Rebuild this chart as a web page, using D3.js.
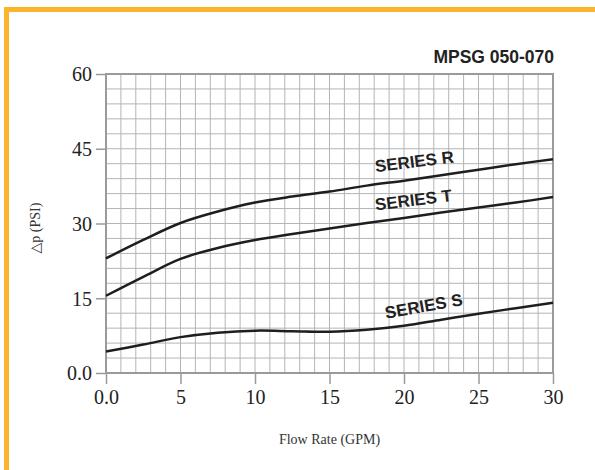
<!DOCTYPE html>
<html>
<head>
<meta charset="utf-8">
<script src="https://cdn.jsdelivr.net/npm/d3@7.9.0/dist/d3.min.js"></script>
<style>
  body { margin: 0; background: #fff; }
  svg { display: block; }
</style>
</head>
<body>
<svg id="chart" width="595" height="470"></svg>
<script>
// data
const flow = [0, 2.5, 5, 7.5, 10, 12.5, 15, 17.5, 20, 22.5, 25, 27.5, 30]
const seriesR = [23.0, 26.7, 30.1, 32.4, 34.2, 35.4, 36.4, 37.6, 38.6, 39.7, 40.8, 41.9, 42.9]
const seriesT = [15.5, 19.3, 22.9, 25.1, 26.7, 27.9, 29.0, 30.1, 31.1, 32.2, 33.2, 34.2, 35.3]
const seriesS = [4.3, 5.7, 7.2, 8.1, 8.5, 8.4, 8.3, 8.7, 9.5, 10.7, 11.9, 13.0, 14.1]
const xTicks = [0, 5, 10, 15, 20, 25, 30]
const yTicks = [0, 15, 30, 45, 60]

const svg = d3.select('#chart')

// orange frame on top and left
svg.append('rect').attr('x', 4).attr('y', 7).attr('width', 591).attr('height', 5).attr('fill', '#fbb52b')
svg.append('rect').attr('x', 4).attr('y', 7).attr('width', 5).attr('height', 463).attr('fill', '#fbb52b')

const x = d3.scaleLinear().domain([0, 30]).range([106, 553])
const y = d3.scaleLinear().domain([0, 60]).range([373, 74])

// grid: 1 GPM by 3 PSI
const grid = svg.append('g')
grid.selectAll('line.v').data(d3.range(0, 31, 1)).join('line')
    .attr('x1', d => x(d)).attr('x2', d => x(d))
    .attr('y1', y(0)).attr('y2', y(60))
    .attr('stroke', '#b4b4b4').attr('stroke-width', 1)
grid.selectAll('line.h').data(d3.range(0, 61, 3)).join('line')
    .attr('y1', d => y(d)).attr('y2', d => y(d))
    .attr('x1', x(0)).attr('x2', x(30))
    .attr('stroke', '#b4b4b4').attr('stroke-width', 1)

svg.append('rect')
    .attr('x', x(0)).attr('y', y(60))
    .attr('width', x(30) - x(0)).attr('height', y(0) - y(60))
    .attr('fill', 'none').attr('stroke', '#9a9a9a').attr('stroke-width', 2)

// axes
const xAxis = svg.append('g').attr('transform', `translate(0,${y(0)})`)
    .call(d3.axisBottom(x).tickValues(xTicks).tickSize(11).tickPadding(6)
        .tickFormat(d => d === 0 ? '0.0' : d))
const yAxis = svg.append('g').attr('transform', `translate(${x(0)},0)`)
    .call(d3.axisLeft(y).tickValues(yTicks).tickSize(10).tickPadding(4)
        .tickFormat(d => d === 0 ? '0.0' : d))
;[xAxis, yAxis].forEach(a => {
    a.select('.domain').remove()
    a.selectAll('line').attr('stroke', '#9a9a9a').attr('stroke-width', 1.5)
    a.selectAll('text').attr('font-family', 'Liberation Serif, Times New Roman, serif')
        .attr('font-size', 20).attr('fill', '#222')
})
yAxis.selectAll('text').attr('dy', '0.34em')

// curves
const line = d3.line().x((d, i) => x(flow[i])).y(d => y(d)).curve(d3.curveCatmullRom.alpha(0.5))
const curves = [seriesR, seriesT, seriesS]
svg.selectAll('path.curve').data(curves).join('path')
    .attr('class', 'curve')
    .attr('d', line)
    .attr('fill', 'none').attr('stroke', '#1e1e1e').attr('stroke-width', 2.5)

// series labels
const labels = [
    { text: 'SERIES R', gpm: 18.1, psi: 40.3, angle: -7 },
    { text: 'SERIES T', gpm: 18.1, psi: 32.6, angle: -7 },
    { text: 'SERIES S', gpm: 18.8, psi: 10.9, angle: -10 }
]
svg.selectAll('text.series').data(labels).join('text')
    .attr('class', 'series')
    .attr('transform', d => `translate(${x(d.gpm)},${y(d.psi)}) rotate(${d.angle})`)
    .attr('font-family', 'Liberation Sans, Arial, sans-serif')
    .attr('font-weight', 'bold').attr('font-size', 17).attr('fill', '#222')
    .text(d => d.text)

// title
svg.append('text')
    .attr('x', 554).attr('y', 63).attr('text-anchor', 'end')
    .attr('font-family', 'Liberation Sans, Arial, sans-serif')
    .attr('font-weight', 'bold').attr('font-size', 17.5).attr('fill', '#222')
    .text('MPSG 050-070')

// axis titles
svg.append('text')
    .attr('transform', 'translate(40,228) rotate(-90)')
    .attr('text-anchor', 'middle')
    .attr('font-family', 'Liberation Serif, DejaVu Serif, serif')
    .attr('font-size', 14).attr('fill', '#333')
    .text('△p (PSI)')
svg.append('text')
    .attr('x', (x(0) + x(30)) / 2).attr('y', 444).attr('text-anchor', 'middle')
    .attr('font-family', 'Liberation Serif, Times New Roman, serif')
    .attr('font-size', 14).attr('fill', '#333')
    .text('Flow Rate (GPM)')
</script>
</body>
</html>
